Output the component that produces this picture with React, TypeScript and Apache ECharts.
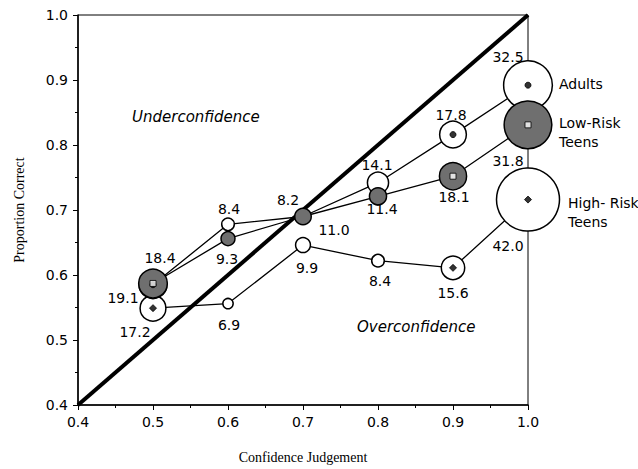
import React, { useEffect, useRef } from "react";
import * as echarts from "echarts";

const confidence = [0.5, 0.6, 0.7, 0.8, 0.9, 1.0];
const adultsCorrect = [0.585, 0.678, 0.69, 0.742, 0.816, 0.892];
const adultsPct = [18.4, 8.4, 8.2, 14.1, 17.8, 32.5];
const lowRiskCorrect = [0.587, 0.656, 0.69, 0.721, 0.752, 0.831];
const lowRiskPct = [19.1, 9.3, 11.0, 11.4, 18.1, 31.8];
const highRiskCorrect = [0.549, 0.556, 0.646, 0.622, 0.611, 0.716];
const highRiskPct = [17.2, 6.9, 9.9, 8.4, 15.6, 42.0];
const diagonal = [0.4, 1.0];
const axisTicks = [0.4, 0.5, 0.6, 0.7, 0.8, 0.9, 1.0];

// label placement offsets (px) relative to each marker centre
const adultsLabelOffsets = [[7, -27], [1, -15], [-15, -17], [-1, -18], [-2, -20], [-20, -28]];
const lowRiskLabelOffsets = [[-30, 15], [-1, 20], [31, 13], [4, 13], [1, 21], [-20, 36]];
const highRiskLabelOffsets = [[-18, 24], [1, 21], [4, 23], [2, 20], [0, 25], [-20, 46]];

const NUM_FONT = "'DejaVu Sans', Verdana, sans-serif";
const SERIF = "'Liberation Serif', 'Times New Roman', serif";

function makeSeries(
  name: string,
  ys: number[],
  pcts: number[],
  offsets: number[][],
  fill: string,
  z: number
) {
  return {
    name,
    type: "line",
    z,
    data: confidence.map((x, i) => ({
      value: [x, ys[i], pcts[i]],
      label: { offset: offsets[i] },
    })),
    symbol: "circle",
    symbolSize: (v: number[]) => v[2] * 1.5,
    lineStyle: { color: "#000", width: 1.3 },
    itemStyle: { color: fill, borderColor: "#000", borderWidth: 1.5 },
    label: {
      show: true,
      position: "inside",
      color: "#000",
      fontFamily: NUM_FONT,
      fontSize: 14,
      formatter: (p: any) => p.value[2].toFixed(1),
    },
    emphasis: { disabled: true },
  };
}

function makeCentre(ys: number[], pcts: number[], symbol: string, size: number, fill: string, z: number) {
  return {
    type: "scatter",
    z,
    symbol,
    data: confidence
      .map((x, i) => [x, ys[i], pcts[i]])
      .filter((d) => d[2] >= 15),
    symbolSize: size,
    itemStyle: { color: fill, borderColor: "#000", borderWidth: 1 },
    emphasis: { disabled: true },
    silent: true,
  };
}

export default function App() {
  const ref = useRef<HTMLDivElement>(null);
  useEffect(() => {
    if (!ref.current) return;
    const chart = echarts.init(ref.current, null, { renderer: "svg" });
    chart.setOption({
      animation: false,
      backgroundColor: "#fff",
      grid: {
        left: 78,
        right: 110,
        top: 15,
        bottom: 57,
        show: true,
        borderColor: "#000",
        borderWidth: 1,
      },
      xAxis: {
        type: "value",
        min: axisTicks[0],
        max: axisTicks[axisTicks.length - 1],
        interval: 0.1,
        name: "Confidence Judgement",
        nameLocation: "middle",
        nameGap: 45,
        nameTextStyle: { fontFamily: SERIF, fontSize: 14, color: "#000" },
        axisLine: { lineStyle: { color: "#000", width: 1.5 } },
        axisTick: { show: true, length: 5, lineStyle: { color: "#000" } },
        minorTick: { show: true, splitNumber: 2, length: 3, lineStyle: { color: "#000" } },
        splitLine: { show: false },
        axisLabel: {
          color: "#000",
          fontFamily: NUM_FONT,
          fontSize: 14,
          margin: 10,
          formatter: (v: number) => v.toFixed(1),
        },
      },
      yAxis: {
        type: "value",
        min: axisTicks[0],
        max: axisTicks[axisTicks.length - 1],
        interval: 0.1,
        name: "Proportion Correct",
        nameLocation: "middle",
        nameGap: 52,
        nameTextStyle: { fontFamily: SERIF, fontSize: 14, color: "#000" },
        axisLine: { lineStyle: { color: "#000", width: 1.5 } },
        axisTick: { show: true, length: 5, lineStyle: { color: "#000" } },
        minorTick: { show: true, splitNumber: 2, length: 3, lineStyle: { color: "#000" } },
        splitLine: { show: false },
        axisLabel: {
          color: "#000",
          fontFamily: NUM_FONT,
          fontSize: 14,
          margin: 10,
          formatter: (v: number) => v.toFixed(1),
        },
      },
      series: [
        {
          type: "line",
          z: 1,
          data: diagonal.map((v) => [v, v]),
          symbol: "none",
          lineStyle: { color: "#000", width: 4 },
          silent: true,
        },
        makeSeries("High-Risk Teens", highRiskCorrect, highRiskPct, highRiskLabelOffsets, "#fff", 2),
        makeSeries("Adults", adultsCorrect, adultsPct, adultsLabelOffsets, "#fff", 3),
        makeSeries("Low-Risk Teens", lowRiskCorrect, lowRiskPct, lowRiskLabelOffsets, "#6f6f6f", 4),
        makeCentre(highRiskCorrect, highRiskPct, "diamond", 7, "#000", 5),
        makeCentre(adultsCorrect, adultsPct, "circle", 6, "#000", 5),
        makeCentre(lowRiskCorrect, lowRiskPct, "rect", 6, "#fff", 6),
      ],
      graphic: [
        {
          type: "text",
          left: 132,
          top: 109,
          style: { text: "Underconfidence", font: `italic 15px ${NUM_FONT}`, fill: "#000" },
        },
        {
          type: "text",
          left: 357,
          top: 319,
          style: { text: "Overconfidence", font: `italic 15px ${NUM_FONT}`, fill: "#000" },
        },
        {
          type: "text",
          left: 559,
          top: 77,
          style: { text: "Adults", font: `14px ${NUM_FONT}`, fill: "#000" },
        },
        {
          type: "text",
          left: 559,
          top: 113,
          style: { text: "Low-Risk\nTeens", font: `14px ${NUM_FONT}`, fill: "#000", lineHeight: 19 },
        },
        {
          type: "text",
          left: 568,
          top: 193,
          style: { text: "High- Risk\nTeens", font: `14px ${NUM_FONT}`, fill: "#000", lineHeight: 19 },
        },
      ],
    });
    return () => chart.dispose();
  }, []);
  return <div ref={ref} style={{ width: 638, height: 469, position: "absolute", left: 0, top: 0 }} />;
}
